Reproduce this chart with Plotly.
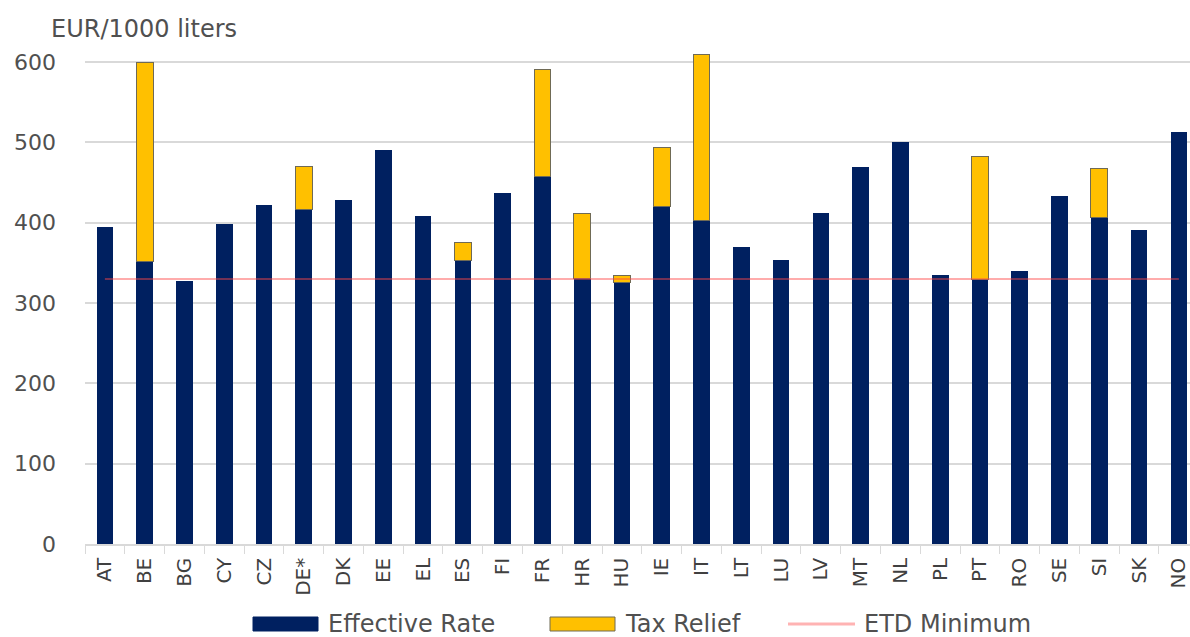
import plotly.graph_objects as go

# Member states (plus Norway) on the category axis
countries = ["AT", "BE", "BG", "CY", "CZ", "DE*", "DK", "EE", "EL", "ES",
             "FI", "FR", "HR", "HU", "IE", "IT", "LT", "LU", "LV", "MT",
             "NL", "PL", "PT", "RO", "SE", "SI", "SK", "NO"]

# Effective excise rate on gas oil, EUR per 1000 liters
effective_rate = [395, 352, 328, 399, 422, 417, 428, 490, 408, 353,
                  437, 457, 330, 325, 420, 403, 370, 354, 412, 470,
                  501, 335, 329, 340, 433, 406, 391, 513]

# Tax relief stacked on top of the effective rate (None = no relief)
tax_relief = [None, 247, None, None, None, 53, None, None, None, 23,
              None, 134, 82, 9, 74, 206, None, None, None, None,
              None, None, 154, None, None, 62, None, None]

# Energy Taxation Directive minimum rate
etd_minimum = [330, 330, 330, 330, 330, 330, 330, 330, 330, 330,
               330, 330, 330, 330, 330, 330, 330, 330, 330, 330,
               330, 330, 330, 330, 330, 330, 330, 330]

y_ticks = [0, 100, 200, 300, 400, 500, 600]

NAVY = "#002060"
GOLD = "#FFC000"
PINK = "rgba(255,70,70,0.45)"
TEXT = "#505050"
FONT = "DejaVu Sans"

fig = go.Figure()
fig.add_trace(go.Bar(
    x=countries, y=effective_rate, name="Effective Rate",
    marker=dict(color=NAVY, line=dict(width=0)),
))
fig.add_trace(go.Bar(
    x=countries, y=tax_relief, name="Tax Relief",
    marker=dict(color=GOLD, line=dict(color="#6f6a55", width=1)),
))
fig.add_trace(go.Scatter(
    x=countries, y=etd_minimum, name="ETD Minimum", mode="lines",
    line=dict(color=PINK, width=2),
))

# Plot area geometry (pixels) used to place the hand-built legend
W, H = 1190, 637
L, R, T, B = 85, 0, 38, 93
pw, ph = W - L - R, H - T - B

def px(x):
    return (x - L) / pw

def py(y):
    return (H - B - y) / ph

shapes = []
annotations = []

legend_y = 624
items = [
    ("rect", NAVY, None, 253, 318, "Effective Rate", 326),
    ("rect", GOLD, "#6f6a55", 550, 615, "Tax Relief", 623),
    ("line", "#ffb3b3", None, 788, 855, "ETD Minimum", 862),
]
for kind, color, edge, x0, x1, label, tx in items:
    if kind == "rect":
        shapes.append(dict(
            type="rect", xref="paper", yref="paper",
            x0=px(x0), x1=px(x1), y0=py(legend_y + 7), y1=py(legend_y - 7),
            fillcolor=color,
            line=dict(color=edge if edge else color, width=1),
        ))
    else:
        shapes.append(dict(
            type="line", xref="paper", yref="paper",
            x0=px(x0), x1=px(x1), y0=py(legend_y), y1=py(legend_y),
            line=dict(color=color, width=3),
        ))
    annotations.append(dict(
        text=label, xref="paper", yref="paper",
        x=px(tx), y=py(legend_y), xanchor="left", yanchor="middle",
        showarrow=False, font=dict(family=FONT, size=24, color=TEXT),
    ))

# Unit label above the value axis
annotations.append(dict(
    text="EUR/1000 liters", xref="paper", yref="paper",
    x=px(49), y=py(29), xanchor="left", yanchor="middle",
    showarrow=False, font=dict(family=FONT, size=24, color=TEXT),
))

fig.update_layout(
    width=W, height=H,
    margin=dict(l=L, r=R, t=T, b=B),
    barmode="stack",
    bargap=0.58,
    showlegend=False,
    plot_bgcolor="white",
    paper_bgcolor="white",
    font=dict(family=FONT, color=TEXT),
    shapes=shapes,
    annotations=annotations,
)
fig.update_xaxes(
    range=[-0.5, 27.28],
    tickangle=-90,
    tickfont=dict(family=FONT, size=20, color="#404040"),
    showline=True, linecolor="#d9d9d9", linewidth=1.5,
    ticks="outside", tickson="boundaries", ticklen=8, tickcolor="#d9d9d9",
    showgrid=False,
    ticklabelstandoff=4,
)
fig.update_yaxes(
    range=[0, 630],
    tickvals=y_ticks,
    tickfont=dict(family=FONT, size=22, color=TEXT),
    showgrid=True, gridcolor="#d9d9d9", gridwidth=1.5,
    zeroline=False, showline=False,
    ticklabelstandoff=28,
)

fig.write_html("out.html")
